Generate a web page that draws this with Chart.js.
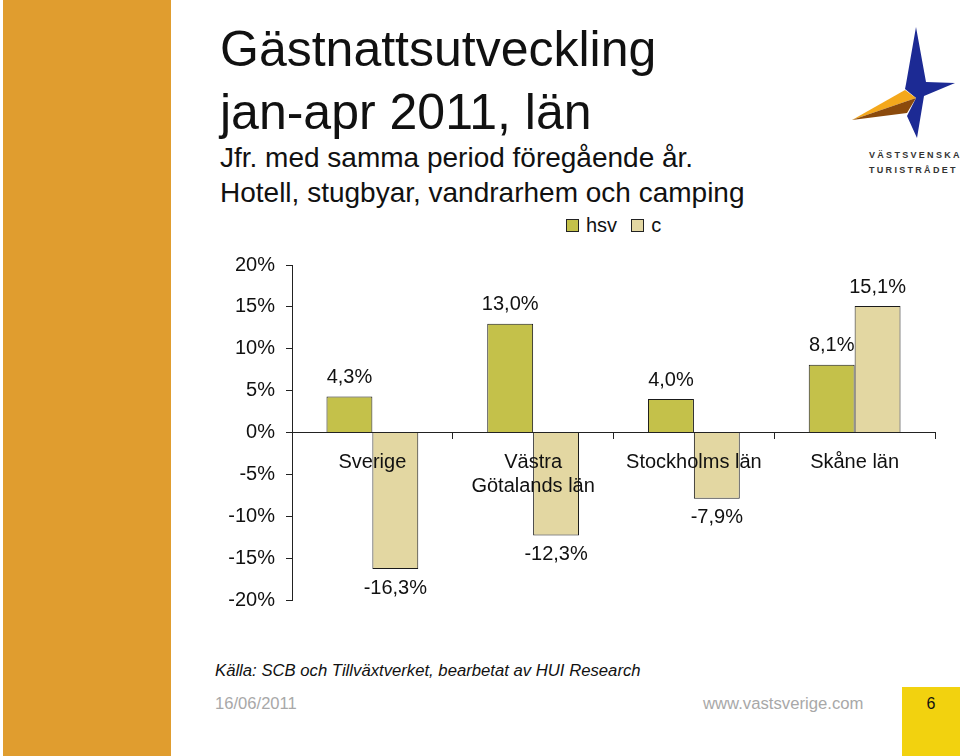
<!DOCTYPE html>
<html>
<head>
<meta charset="utf-8">
<script src="https://cdn.jsdelivr.net/npm/chart.js@4"></script>
<style>
  body { margin: 0; width: 960px; height: 756px; position: relative; overflow: hidden; background: #fff;
         font-family: "Liberation Sans", Arial, sans-serif; color: #111; }
  .stripe { position: absolute; left: 3px; top: 0; width: 168px; height: 756px; background: #e09d2f; }
  .title { position: absolute; left: 220px; top: 18px; font-size: 50px; line-height: 63px; }
  .sub { position: absolute; left: 220px; top: 140px; font-size: 28px; line-height: 35px; }
  #legend { position: absolute; left: 566px; top: 214px; font-size: 20px; display: flex; align-items: center; }
  #legend span.box { display: inline-block; width: 11px; height: 11px; border: 1px solid #222; margin-right: 7px; }
  #legend span.txt { margin-right: 14px; }
  .wrap { position: absolute; left: 200px; top: 240px; width: 760px; height: 383px; }
  .src { position: absolute; left: 215px; top: 661px; font-size: 16.7px; font-style: italic; color: #111; }
  .date { position: absolute; left: 215px; top: 694px; font-size: 16.6px; color: #a8a8a8; }
  .web { position: absolute; left: 703px; top: 694px; font-size: 16.7px; color: #a8a8a8; }
  .page { position: absolute; left: 902px; top: 687px; width: 58px; height: 69px; background: #f2d20f;
          font-size: 16px; text-align: center; line-height: 34px; }
  .logo { position: absolute; left: 845px; top: 20px; }
  .logotxt { position: absolute; left: 869px; top: 148px; font-size: 9px; letter-spacing: 2.3px; line-height: 15px; font-weight: bold; color: #333; }
</style>
</head>
<body>
<div class="stripe"></div>
<div class="title">Gästnattsutveckling<br>jan-apr 2011, län</div>
<div class="sub">Jfr. med samma period föregående år.<br>Hotell, stugbyar, vandrarhem och camping</div>
<svg class="logo" width="115" height="125" viewBox="845 20 115 125">
  <polygon points="916,27 926,82 955,83 924,96 917,138 907,116 916,98 905,89 906,84" fill="#1c2a94"/>
  <polygon points="852,120 905,90 916,98" fill="#f4a81c"/>
  <polygon points="852,120 916,98 907,113" fill="#8b4a0c"/>
</svg>
<div class="logotxt">VÄSTSVENSKA<br>TURISTRÅDET</div>
<div id="legend"></div>
<div class="wrap"><canvas id="chart"></canvas></div>
<div class="src">Källa: SCB och Tillväxtverket, bearbetat av HUI Research</div>
<div class="date">16/06/2011</div>
<div class="web">www.vastsverige.com</div>
<div class="page">6</div>

<script>
const regions = ['Sverige', ['Västra', 'Götalands län'], 'Stockholms län', 'Skåne län'];
const hsvValues = [4.3, 13.0, 4.0, 8.1];
const cValues = [-16.3, -12.3, -7.9, 15.1];
const seriesNames = ['hsv', 'c'];
const seriesColors = ['#c4c14a', '#e3d7a2'];

const fmt = v => v.toFixed(1).replace('.', ',') + '%';

// etiketter ovanför/under staplarna
const valueLabels = {
    id: 'valueLabels',
    afterDatasetsDraw(chart) {
        const ctx = chart.ctx;
        ctx.save();
        ctx.font = '20px "Liberation Sans", Arial, sans-serif';
        ctx.fillStyle = '#111';
        ctx.textAlign = 'center';
        ctx.textBaseline = 'middle';
        chart.data.datasets.forEach((ds, i) => {
            chart.getDatasetMeta(i).data.forEach((bar, j) => {
                const v = ds.data[j];
                const y = v >= 0 ? bar.y - 19 : bar.y + 19;
                ctx.fillText(fmt(v), bar.x, y);
            });
        });
        ctx.restore();
    }
};

const legend = document.getElementById('legend');
seriesNames.forEach((name, i) => {
    const box = document.createElement('span');
    box.className = 'box';
    box.style.background = seriesColors[i];
    const txt = document.createElement('span');
    txt.className = 'txt';
    txt.textContent = name;
    legend.appendChild(box);
    legend.appendChild(txt);
});

new Chart(document.getElementById('chart'), {
    type: 'bar',
    data: {
        labels: regions,
        datasets: [
            { label: seriesNames[0], data: hsvValues, backgroundColor: seriesColors[0], borderColor: '#1a1a1a', borderWidth: 1 },
            { label: seriesNames[1], data: cValues, backgroundColor: seriesColors[1], borderColor: '#1a1a1a', borderWidth: 1 }
        ]
    },
    options: {
        animation: false,
        responsive: true,
        maintainAspectRatio: false,
        layout: { padding: { top: 25, bottom: 17, right: 25, left: 0 } },
        datasets: { bar: { categoryPercentage: 0.571, barPercentage: 1 } },
        plugins: { legend: { display: false }, tooltip: { enabled: false } },
        scales: {
            x: {
                position: { y: 0 },
                grid: { drawOnChartArea: false, drawTicks: true, tickLength: 6, color: '#222', offset: true },
                border: { color: '#222', z: 1 },
                ticks: { z: 1, color: '#111', padding: 12, maxRotation: 0, font: { size: 20, family: '"Liberation Sans", Arial, sans-serif', lineHeight: 1.2 } }
            },
            y: {
                min: -20, max: 20,
                afterFit: scale => { scale.width = 92; },
                grid: { drawOnChartArea: false, drawTicks: true, tickLength: 6, color: '#222' },
                border: { color: '#222' },
                ticks: { stepSize: 5, padding: 11, color: '#111', callback: v => v + '%',
                         font: { size: 20, family: '"Liberation Sans", Arial, sans-serif' } }
            }
        }
    },
    plugins: [valueLabels]
});
</script>
</body>
</html>
